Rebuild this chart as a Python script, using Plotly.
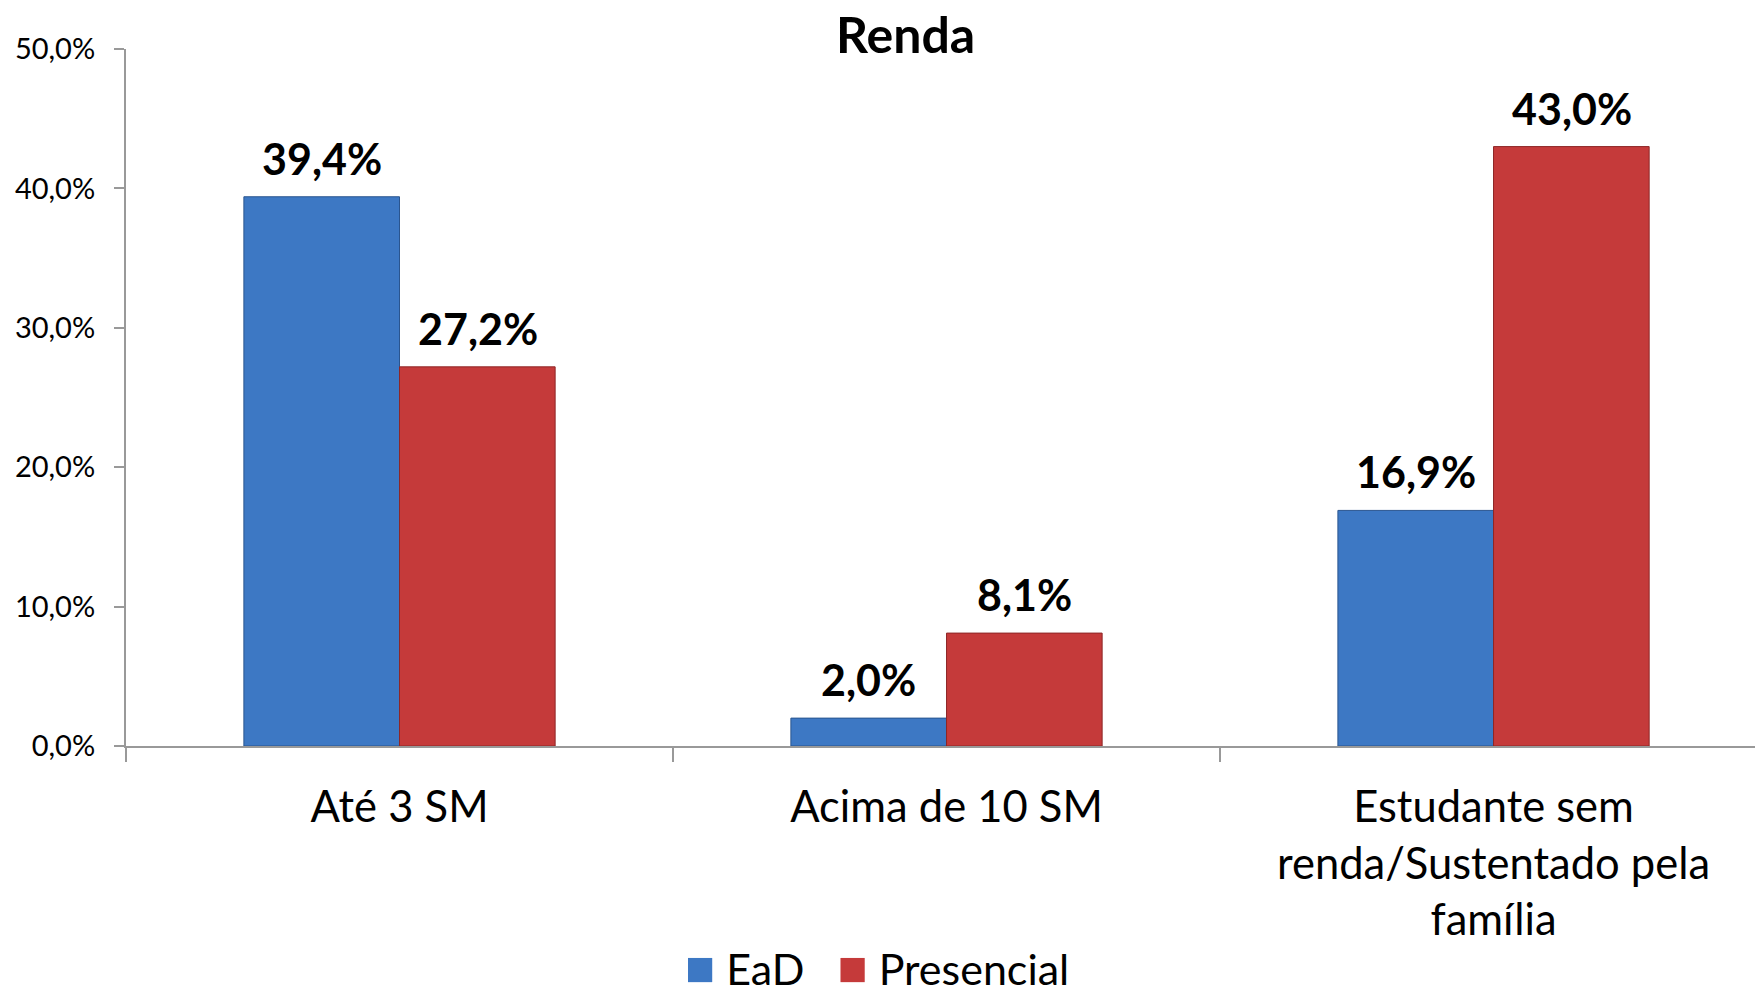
import plotly.graph_objects as go

categories = ["Até 3 SM", "Acima de 10 SM", "Estudante sem<br>renda/Sustentado pela<br>família"]
ead = [39.4, 2.0, 16.9]
presencial = [27.2, 8.1, 43.0]
series_names = ["EaD", "Presencial"]
series_colors = ["#3D78C4", "#C53A3A"]
tick_vals = [0, 10, 20, 30, 40, 50]
tick_text = ["0,0%", "10,0%", "20,0%", "30,0%", "40,0%", "50,0%"]

FONT = "Lato, Calibri, sans-serif"

def fmt(v):
    return f"{v:.1f}".replace(".", ",") + "%"

fig = go.Figure()
fig.add_trace(go.Bar(x=categories, y=ead, name=series_names[0],
                     marker=dict(color=series_colors[0], line=dict(color="#2A558F", width=1))))
fig.add_trace(go.Bar(x=categories, y=presencial, name=series_names[1],
                     marker=dict(color=series_colors[1], line=dict(color="#8E2626", width=1))))

annotations = []
for vals, shift in ((ead, -78), (presencial, 78)):
    for c, v in zip(categories, vals):
        annotations.append(dict(x=c, y=v, text="<b>" + fmt(v) + "</b>", showarrow=False,
                                xref="x", yref="y", xshift=shift, yanchor="bottom", yshift=11,
                                font=dict(family=FONT, size=43, color="black")))

# legend drawn as text with coloured squares
sq = "<span style='color:{c};font-size:50px'>■</span>"
legend_text = (sq.format(c=series_colors[0]) + f" {series_names[0]}"
               + "&nbsp;&nbsp;&nbsp;" + sq.format(c=series_colors[1]) + f" {series_names[1]}")
annotations.append(dict(x=0.461, y=-0.316, xref="paper", yref="paper", xanchor="center",
                        yanchor="middle", showarrow=False, text=legend_text,
                        font=dict(family=FONT, size=43, color="black")))

fig.update_layout(
    width=1755, height=996,
    margin=dict(l=126, r=0, t=49, b=250),
    paper_bgcolor="white", plot_bgcolor="white",
    barmode="group", bargap=0.431, bargroupgap=0,
    title=dict(text="<b>Renda</b>", x=0.516, xref="container", xanchor="center",
               y=1 - 35 / 996, yref="container", yanchor="middle",
               font=dict(family=FONT, size=50, color="black")),
    annotations=annotations,
    showlegend=False,
)
fig.update_xaxes(showline=True, linecolor="#999999", linewidth=2,
                 ticks="outside", tickson="boundaries", ticklen=14, tickcolor="#999999", tickwidth=2,
                 tickfont=dict(family=FONT, size=43.5, color="black"),
                 ticklabelstandoff=22, range=[-0.5, 2.478], fixedrange=True)
fig.update_yaxes(range=[0, 50], tickvals=tick_vals, ticktext=tick_text,
                 showline=True, linecolor="#999999", linewidth=2,
                 ticks="outside", ticklen=10, tickcolor="#999999", tickwidth=2,
                 showgrid=False, zeroline=False,
                 tickfont=dict(family=FONT, size=29, color="black"),
                 ticklabelstandoff=13)

fig.write_html("out.html", config={"displayModeBar": False},
               post_script="document.body.style.margin='0';document.body.style.overflow='hidden';")
